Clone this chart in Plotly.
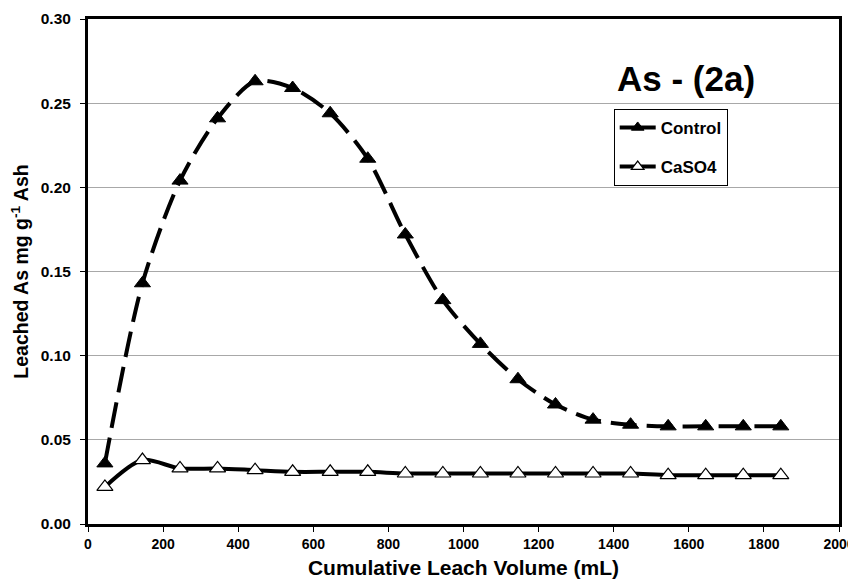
import plotly.graph_objects as go

volume = [45, 145, 245, 345, 445, 545, 645, 745, 845, 945, 1045, 1145, 1245, 1345, 1445, 1545, 1645, 1745, 1845]
control = [0.036, 0.143, 0.204, 0.241, 0.263, 0.259, 0.244, 0.217, 0.172, 0.133, 0.107, 0.086, 0.071, 0.062, 0.059, 0.058, 0.058, 0.058, 0.058]
caso4 = [0.022, 0.038, 0.033, 0.033, 0.032, 0.031, 0.031, 0.031, 0.030, 0.030, 0.030, 0.030, 0.030, 0.030, 0.030, 0.029, 0.029, 0.029, 0.029]

filled = dict(symbol="triangle-up", size=14, color="black", line=dict(color="black", width=1))
hollow = dict(symbol="triangle-up", size=14, color="white", line=dict(color="black", width=1.2))

fig = go.Figure()
fig.add_trace(go.Scatter(
    x=volume, y=control, name="Control", mode="lines+markers", showlegend=False,
    line=dict(color="black", width=4, dash="26px,10px", shape="spline", smoothing=0.8),
    marker=filled,
))
fig.add_trace(go.Scatter(
    x=volume, y=caso4, name="CaSO4", mode="lines+markers", showlegend=False,
    line=dict(color="black", width=4, shape="spline", smoothing=0.8),
    marker=hollow,
))
# legend entries (solid line symbols as in the reference legend)
fig.add_trace(go.Scatter(
    x=[None], y=[None], name="Control", mode="lines+markers", legendgroup="a",
    line=dict(color="black", width=4), marker=dict(filled, size=11),
))
fig.add_trace(go.Scatter(
    x=[None], y=[None], name="CaSO4", mode="lines+markers", legendgroup="b",
    line=dict(color="black", width=4), marker=dict(hollow, size=11),
))

fig.add_annotation(
    text="As - (2a)", x=0.796, y=0.883, xref="paper", yref="paper",
    showarrow=False, xanchor="center", yanchor="middle",
    font=dict(family="Liberation Sans, Arial", size=35, color="black", weight="bold"),
)

fig.update_layout(
    width=848, height=578,
    margin=dict(l=80, r=17, t=11, b=62),
    paper_bgcolor="white", plot_bgcolor="white",
    font=dict(family="Liberation Sans, Arial", color="black"),
    showlegend=True,
    legend=dict(
        x=0.70, y=0.822, xanchor="left", yanchor="top",
        bordercolor="black", borderwidth=1, bgcolor="white",
        font=dict(size=17, weight="bold"),
        itemwidth=36, tracegroupgap=14,
    ),
    xaxis=dict(
        range=[0, 2000], tickvals=list(range(0, 2001, 200)),
        showgrid=False, zeroline=False, automargin=False,
        showline=True, linecolor="black", linewidth=3, mirror=True,
        ticks="outside", ticklen=5, tickcolor="black", tickwidth=1,
        tickfont=dict(size=14, weight="bold"),
        title=dict(text="Cumulative Leach Volume (mL)", font=dict(size=21, weight="bold"), standoff=10),
    ),
    yaxis=dict(
        range=[0, 0.30], tickvals=[0, 0.05, 0.10, 0.15, 0.20, 0.25, 0.30],
        tickformat=".2f", automargin=False,
        showgrid=True, gridcolor="#a8a8a8", gridwidth=1, zeroline=False,
        showline=True, linecolor="black", linewidth=3, mirror=True,
        ticks="outside", ticklen=5, tickcolor="black", tickwidth=1,
        ticklabelstandoff=6,
        tickfont=dict(size=15.5, weight="bold"),
        title=dict(text="Leached As mg g<sup>-1</sup> Ash", font=dict(size=19.5, weight="bold"), standoff=8),
    ),
)

fig.write_html("out.html")
